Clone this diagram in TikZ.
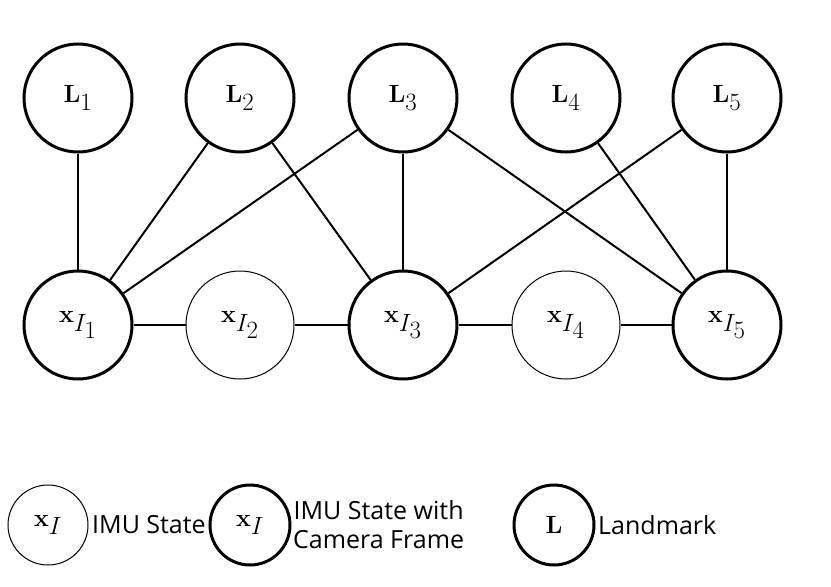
\documentclass[tikz,border=0pt]{standalone}
\usepackage{amsmath}
\usepackage[no-math]{fontspec}
\setmainfont{Open Sans}
\begin{document}
\begin{tikzpicture}[x=1pt,y=-1pt,
  st/.style={circle,draw,minimum size=108pt,inner sep=0pt,font=\fontsize{52}{60}\selectfont},
  thk/.style={st,line width=3pt},
  thn/.style={st,line width=1pt},
  lg/.style={circle,draw,minimum size=80pt,inner sep=0pt,font=\fontsize{38}{44}\selectfont},
  lt/.style={font=\fontsize{25}{29}\selectfont,align=center,inner sep=0pt},
  ed/.style={line width=2pt}]
\useasboundingbox (0,0) rectangle (831,587);
\foreach \i/\x in {1/78,2/240,3/403,4/566,5/727}{
  \node[thk] (L\i) at (\x,98) {$\mathbf{L}_{\i}$};
}
\node[thk] (x1) at (78,325) {$\mathbf{x}_{I_1}$};
\node[thn] (x2) at (240,325) {$\mathbf{x}_{I_2}$};
\node[thk] (x3) at (403,325) {$\mathbf{x}_{I_3}$};
\node[thn] (x4) at (566,325) {$\mathbf{x}_{I_4}$};
\node[thk] (x5) at (727,325) {$\mathbf{x}_{I_5}$};
\foreach \a/\b in {L1/x1,L2/x1,L2/x3,L3/x1,L3/x3,L3/x5,L4/x5,L5/x3,L5/x5,x1/x2,x2/x3,x3/x4,x4/x5}
  \draw[ed] (\a) -- (\b);
\node[lg,line width=1pt] (g1) at (48,525) {$\mathbf{x}_I$};
\node[lt,anchor=west] (t1) at (92,525) {IMU State};
\node[lg,line width=3pt] (g2) at (250,525) {$\mathbf{x}_I$};
\node[lt,anchor=west] (t2) at (293,525) {IMU State with\\Camera Frame};
\node[lg,line width=3pt] (g3) at (554,525) {$\mathbf{L}$};
\node[lt,anchor=west] (t3) at (598,525) {Landmark};
\end{tikzpicture}
\end{document}
